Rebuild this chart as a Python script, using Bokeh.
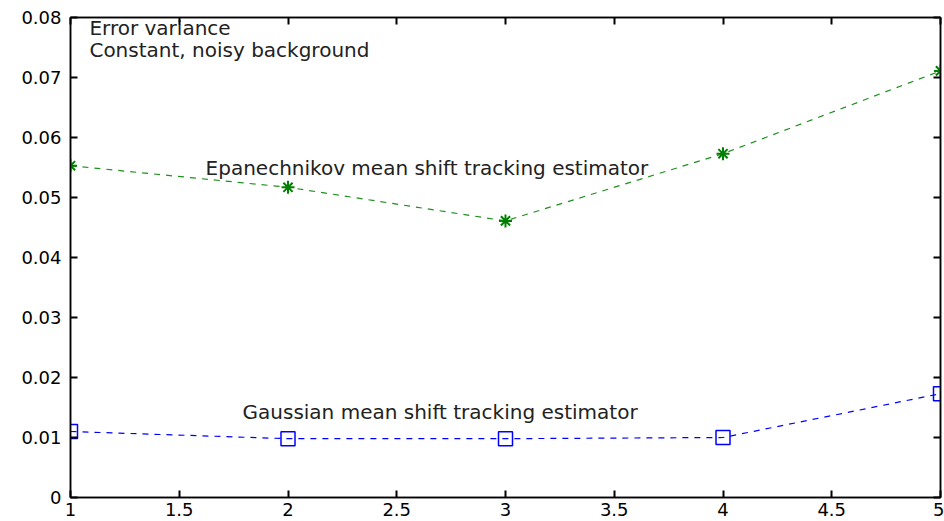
from bokeh.plotting import figure
from bokeh.models import Range1d, LinearAxis, FixedTicker, ColumnDataSource
from bokeh.core.properties import value
from bokeh.embed import file_html
from bokeh.resources import INLINE

# ---- data ----
x_vals = [1, 2, 3, 4, 5]
epan_vals = [0.0553, 0.0517, 0.0461, 0.0573, 0.0711]
gauss_vals = [0.0110, 0.0098, 0.0098, 0.0100, 0.0173]
x_ticks = [1, 1.5, 2, 2.5, 3, 3.5, 4, 4.5, 5]
x_tick_labels = ["1", "1.5", "2", "2.5", "3", "3.5", "4", "4.5", "5"]
y_ticks = [0, 0.01, 0.02, 0.03, 0.04, 0.05, 0.06, 0.07, 0.08]
y_tick_labels = ["0", "0.01", "0.02", "0.03", "0.04", "0.05", "0.06", "0.07", "0.08"]
title_lines = ["Error variance", "Constant, noisy background"]
series_labels = ["Epanechnikov mean shift tracking estimator",
                 "Gaussian mean shift tracking estimator"]

FONT = "DejaVu Sans"
FS = "18px"
AFS = "20px"

x_lo, x_hi = x_ticks[0], x_ticks[-1]
y_lo, y_hi = y_ticks[0], y_ticks[-1]

p = figure(width=944, height=521, output_backend="svg", toolbar_location=None,
           x_range=Range1d(x_lo, x_hi), y_range=Range1d(y_lo, y_hi),
           min_border_left=70, min_border_right=4, min_border_top=17, min_border_bottom=24,
           x_axis_type=None, y_axis_type=None)
p.grid.visible = False
p.outline_line_color = "black"
p.outline_line_width = 1.5
p.background_fill_color = "white"
p.border_fill_color = "white"


def make_axis(ticks, labels, show_labels):
    ax = LinearAxis(ticker=FixedTicker(ticks=ticks, minor_ticks=[]))
    ax.major_label_overrides = {t: l for t, l in zip(ticks, labels)}
    ax.major_tick_in = 7
    ax.major_tick_out = 0
    ax.minor_tick_line_color = None
    ax.axis_line_color = "black"
    ax.axis_line_width = 1.5
    ax.major_tick_line_color = "black"
    ax.major_tick_line_width = 2
    ax.major_label_text_font = FONT
    ax.major_label_text_font_size = FS
    if show_labels:
        ax.major_label_text_color = "black"
        ax.major_label_standoff = 9
    else:
        ax.major_label_text_color = None
        ax.major_label_standoff = 0
    return ax


xb = make_axis(x_ticks, x_tick_labels, True)
xb.major_label_standoff = 5
p.add_layout(xb, "below")
p.add_layout(make_axis(x_ticks, x_tick_labels, False), "above")
p.add_layout(make_axis(y_ticks, y_tick_labels, True), "left")
p.add_layout(make_axis(y_ticks, y_tick_labels, False), "right")

src = ColumnDataSource(dict(x=x_vals, e=epan_vals, g=gauss_vals))

p.line("x", "e", source=src, line_color="#1f8f1f", line_dash="6 6", line_width=1.2)
p.scatter("x", "e", source=src, marker="asterisk", size=13, line_color="#008000", line_width=2)
p.line("x", "g", source=src, line_color="#0000ff", line_dash="6 6", line_width=1.2)
p.scatter("x", "g", source=src, marker="square", size=14, line_color="#0000ff",
          fill_color=None, line_width=1.5)

p.text(x=[1.087, 1.087], y=[0.0783, 0.0746], text=title_lines,
       text_font=value(FONT), text_font_size=AFS, text_color="#222222",
       text_baseline="middle", text_align="left")
p.text(x=[1.621, 1.791], y=[0.0550, 0.01417], text=series_labels,
       text_font=value(FONT), text_font_size=AFS, text_color="#222222",
       text_baseline="middle", text_align="left")

open("out.html", "w").write(file_html(p, INLINE))
